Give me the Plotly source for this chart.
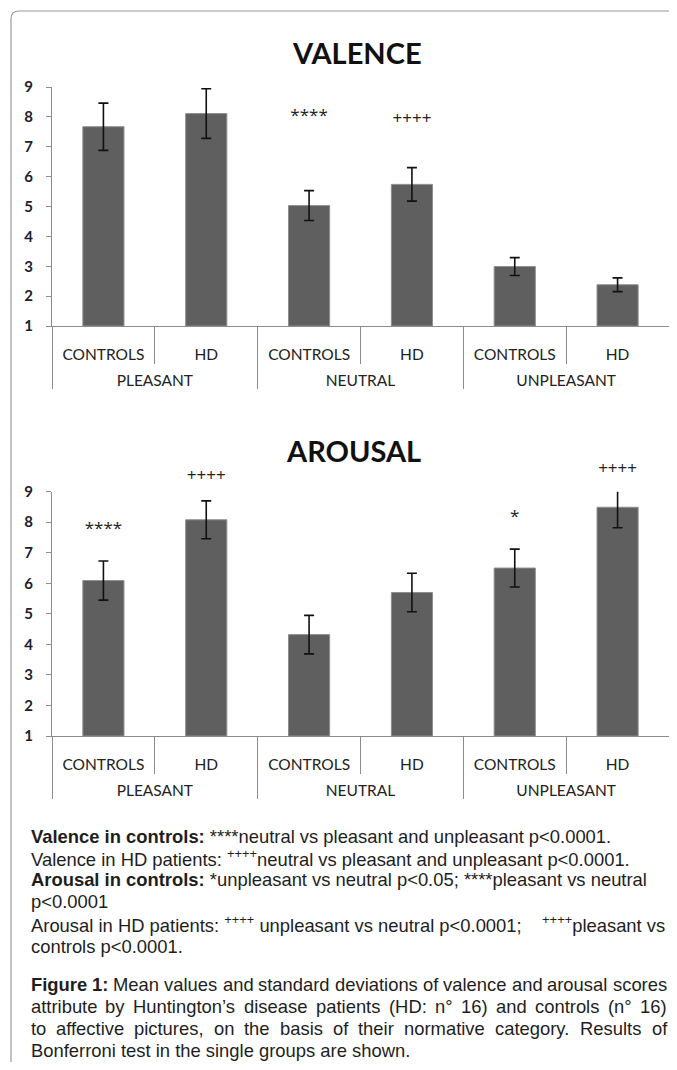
import plotly.graph_objects as go

# ---------------- data ----------------
groups = ["PLEASANT", "PLEASANT", "NEUTRAL", "NEUTRAL", "UNPLEASANT", "UNPLEASANT"]
subjects = ["CONTROLS", "HD", "CONTROLS", "HD", "CONTROLS", "HD"]

valence_mean = [7.67, 8.11, 5.03, 5.74, 2.99, 2.38]
valence_sd = [0.79, 0.83, 0.50, 0.56, 0.30, 0.23]
valence_marks = ["", "", "****", "++++", "", ""]
valence_mark_y = [None, None, 8.02, 7.92, None, None]

arousal_mean = [6.09, 8.08, 4.32, 5.70, 6.50, 8.49]
arousal_sd = [0.64, 0.62, 0.63, 0.63, 0.62, 0.67]
arousal_marks = ["****", "++++", "", "", "*", "++++"]
arousal_mark_y = [7.77, 9.48, None, None, 8.14, 9.71]

y_ticks = [1, 2, 3, 4, 5, 6, 7, 8, 9]

caption_lines = [
    "<b>Valence in controls:</b> ****neutral vs pleasant and unpleasant p<0.0001.",
    "Valence in HD patients: <sup>++++</sup>neutral vs pleasant and unpleasant p<0.0001.",
    "<b>Arousal in controls:</b> *unpleasant vs neutral p<0.05; ****pleasant vs neutral",
    "p<0.0001",
    "Arousal in HD patients: <sup>++++</sup> unpleasant vs neutral p<0.0001;    <sup>++++</sup>pleasant vs",
    "controls p<0.0001.",
]
figure_lines = [
    "Figure 1: Mean values and standard deviations of valence and arousal scores",
    "attribute by Huntington\u2019s disease patients (HD: n\u00b0 16) and controls (n\u00b0 16)",
    "to affective pictures, on the basis of their normative category. Results of",
    "Bonferroni test in the single groups are shown.",
]
bold_words = ["Figure", "1:"]

# ---------------- layout helpers ----------------
# page has an 8px body margin: figure placed at (8, 8)
W, H = 661, 1054
OFF = 8
def px(x):
    return min(max((x - OFF) / W, 0), 1)
def py(y):
    return min(max(1 - (y - OFF) / H, 0), 1)

BAR = "#5f5f5f"
AX = "#8c8c8c"
CHART_FONT = "Lato, Open Sans, sans-serif"
MARK_FONT = "Open Sans, Lato, sans-serif"
TXT_FONT = "Liberation Sans, Arial, sans-serif"
TXT_SIZE = 18.4

# Arial / Liberation Sans advance widths (per 1000 em)
REG = {" ": 278, "a": 556, "b": 556, "c": 500, "d": 556, "e": 556, "f": 278, "g": 556,
       "h": 556, "i": 222, "j": 222, "k": 500, "l": 222, "m": 833, "n": 556, "o": 556,
       "p": 556, "q": 556, "r": 333, "s": 500, "t": 278, "u": 556, "v": 500, "w": 722,
       "x": 500, "y": 500, "z": 500, "A": 667, "B": 667, "C": 722, "D": 722, "E": 667,
       "F": 611, "G": 778, "H": 722, "I": 278, "M": 833, "N": 722, "R": 722, "S": 667,
       "T": 611, ".": 278, ",": 278, ":": 278, ";": 278, "(": 333, ")": 333,
       "\u2019": 222, "\u00b0": 400}
BOLD = {"F": 611, "i": 278, "g": 611, "u": 611, "r": 389, "e": 556, "1": 556, ":": 333}
def text_w(s, bold=False):
    tab = BOLD if bold else REG
    return sum(tab.get(c, 556) for c in s) / 1000 * TXT_SIZE

# pixel rows of value 1 and value 9 for each panel (page coordinates)
panel_px = [(326, 87), (736, 491.7)]
Y_EXT = 11  # hidden axis for the significance marks, same scale, taller range

fig = go.Figure()

panels = [
    (valence_mean, valence_sd, valence_marks, valence_mark_y, "x", "y", "y3"),
    (arousal_mean, arousal_sd, arousal_marks, arousal_mark_y, "x2", "y2", "y4"),
]
group_lbl = ["<br>" + g for g in groups]
for mean, sd, marks, mark_y, xa, ya, ya_m in panels:
    fig.add_trace(go.Bar(
        x=[group_lbl, subjects], y=[m - 1 for m in mean], base=1,
        marker=dict(color=BAR, line=dict(color="#8e8e8e", width=1)),
        width=0.4,
        error_y=dict(type="data", array=sd, color="#111111", thickness=1.6, width=5),
        xaxis=xa, yaxis=ya, showlegend=False, hoverinfo="skip",
    ))
    keep = [i for i, m in enumerate(marks) if m]
    fig.add_trace(go.Scatter(
        x=[[group_lbl[i] for i in keep], [subjects[i] for i in keep]],
        y=[mark_y[i] for i in keep], text=[marks[i] for i in keep], mode="text",
        textfont=dict(family=MARK_FONT, size=17, color="#222222"),
        xaxis=xa, yaxis=ya_m, showlegend=False, hoverinfo="skip",
    ))

xcommon = dict(
    type="multicategory", showline=True, linecolor=AX, linewidth=1,
    ticks="outside", ticklen=37, tickcolor=AX, tickson="boundaries",
    ticklabelstandoff=14,
    showdividers=True, dividercolor=AX, dividerwidth=1,
    tickfont=dict(family=CHART_FONT, size=15.5, color="#222222"),
    showgrid=False, domain=[px(52), px(672)],
)
ycommon = dict(
    range=[1, 9], tickvals=y_ticks, showline=True, linecolor=AX, linewidth=1,
    ticks="outside", ticklen=5, tickcolor=AX, showgrid=False, zeroline=False,
    ticklabelstandoff=10,
    tickfont=dict(family=CHART_FONT, size=15, color="#202030", weight="bold"),
)

def ext_domain(p1, p9):
    unit = (p1 - p9) / 8
    return [py(p1), py(p1 - unit * (Y_EXT - 1))]

fig.update_layout(
    width=W, height=H, margin=dict(l=0, r=0, t=0, b=0, autoexpand=False),
    paper_bgcolor="white", plot_bgcolor="rgba(0,0,0,0)",
    xaxis=dict(anchor="y", **xcommon),
    xaxis2=dict(anchor="y2", **xcommon),
    yaxis=dict(anchor="x", domain=[py(panel_px[0][0]), py(panel_px[0][1])], **ycommon),
    yaxis2=dict(anchor="x2", domain=[py(panel_px[1][0]), py(panel_px[1][1])], **ycommon),
    yaxis3=dict(anchor="x", domain=ext_domain(*panel_px[0]), range=[1, Y_EXT], visible=False),
    yaxis4=dict(anchor="x2", domain=ext_domain(*panel_px[1]), range=[1, Y_EXT], visible=False),
)

# titles
for txt, x, y in [("VALENCE", 357, 52), ("AROUSAL", 353, 450)]:
    fig.add_annotation(text=f"<b>{txt}</b>", x=px(x), y=py(y), xref="paper", yref="paper",
                       showarrow=False, xanchor="center", yanchor="middle",
                       font=dict(family=CHART_FONT, size=29, color="#111111"))

# caption notes
LEFT, RIGHT = 29.5, 666
cap_y = [836, 858, 879, 901, 924, 946]
for t, y in zip(caption_lines, cap_y):
    fig.add_annotation(text=t, x=px(LEFT), y=py(y), xref="paper", yref="paper",
                       showarrow=False, xanchor="left", yanchor="middle", borderpad=0,
                       font=dict(family=TXT_FONT, size=TXT_SIZE, color="#1e1e1e"))

# figure legend, justified (all lines but the last)
fig_y = [984, 1006, 1028, 1050]
for i, (t, y) in enumerate(zip(figure_lines, fig_y)):
    if i == len(figure_lines) - 1:
        fig.add_annotation(text=t, x=px(LEFT), y=py(y), xref="paper", yref="paper",
                           showarrow=False, xanchor="left", yanchor="middle", borderpad=0,
                           font=dict(family=TXT_FONT, size=TXT_SIZE, color="#1e1e1e"))
        continue
    words = t.split(" ")
    bolds = [i == 0 and w in bold_words for w in words]
    widths = [text_w(w, b) for w, b in zip(words, bolds)]
    gap = (RIGHT - LEFT - sum(widths)) / (len(words) - 1)
    xcur = LEFT
    for w, b, wd in zip(words, bolds, widths):
        fig.add_annotation(text=f"<b>{w}</b>" if b else w, x=px(xcur), y=py(y),
                           xref="paper", yref="paper", showarrow=False,
                           xanchor="left", yanchor="middle", borderpad=0,
                           font=dict(family=TXT_FONT, size=TXT_SIZE, color="#1e1e1e"))
        xcur += wd + gap

# outer rounded frame
frame = (f"M {px(11)},{py(1070)} L {px(11)},{py(19)} Q {px(11)},{py(11)} {px(19)},{py(11)} "
         f"L {px(677)},{py(11)}")
fig.add_shape(type="path", path=frame, xref="paper", yref="paper",
              line=dict(color="#9a9a9a", width=1.2))

fig.write_html("out.html")
